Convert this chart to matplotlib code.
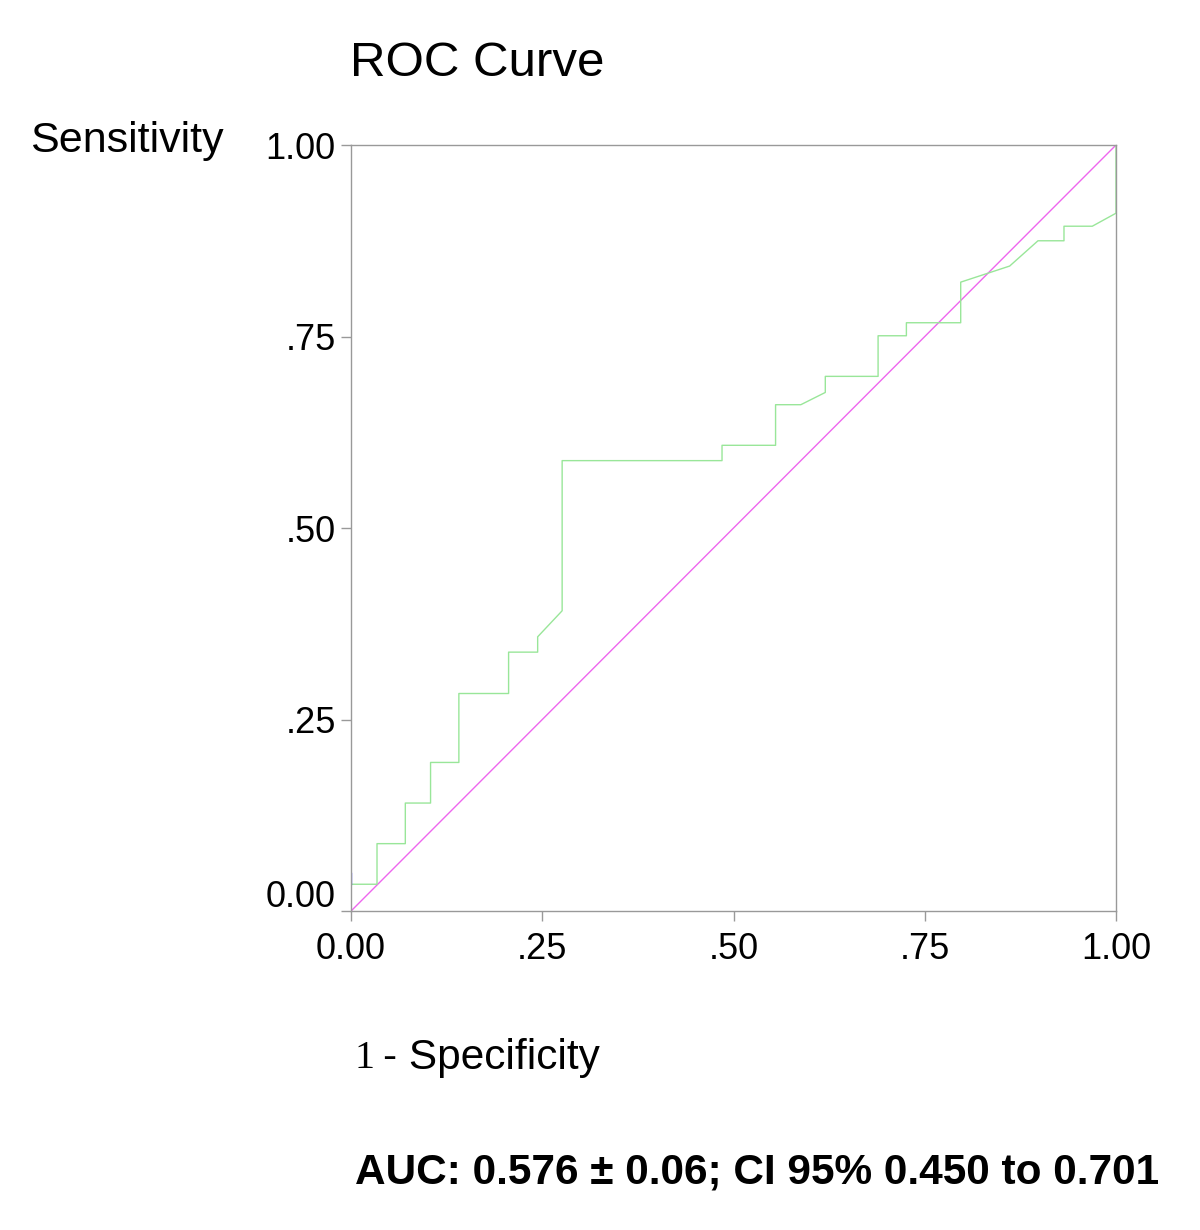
import matplotlib.pyplot as plt
from matplotlib.transforms import ScaledTranslation

plt.rcParams['font.family'] = ['Liberation Sans', 'DejaVu Sans']

# ROC curve vertices (1 - specificity, sensitivity)
fpr = [0.0, 0.0, 0.034, 0.034, 0.071, 0.071, 0.104, 0.104, 0.141, 0.141,
       0.206, 0.206, 0.244, 0.244, 0.276, 0.276, 0.485, 0.485, 0.555, 0.555,
       0.588, 0.620, 0.620, 0.689, 0.689, 0.726, 0.726, 0.797, 0.797, 0.861,
       0.898, 0.932, 0.932, 0.969, 1.0, 1.0]
tpr = [0.0, 0.035, 0.035, 0.088, 0.088, 0.141, 0.141, 0.194, 0.194, 0.284,
       0.284, 0.338, 0.338, 0.358, 0.392, 0.588, 0.588, 0.608, 0.608, 0.661,
       0.661, 0.677, 0.698, 0.698, 0.751, 0.751, 0.768, 0.768, 0.821, 0.842,
       0.875, 0.875, 0.894, 0.894, 0.911, 1.0]
ref_line = [0.0, 1.0]

ticks = [0.0, 0.25, 0.5, 0.75, 1.0]
tick_labels = ['0.00', '.25', '.50', '.75', '1.00']

fig = plt.figure(figsize=(12, 12.3), dpi=100)
ax = fig.add_axes([0.2925, 0.2593, 0.6375, 0.6228])

ax.plot(ref_line, ref_line, color='#ee66ee', lw=1.0)
ax.plot(fpr, tpr, color='#99e699', lw=1.0)
ax.plot([0, 0], [0.035, 0.05], color='#5555ff', lw=1.0)

ax.set_xlim(0, 1)
ax.set_ylim(0, 1)
for s in ax.spines.values():
    s.set_color('#999999')
    s.set_linewidth(1.0)

ax.set_xticks(ticks)
ax.set_xticklabels(tick_labels)
ax.set_yticks(ticks)
ax.set_yticklabels(tick_labels)
ax.tick_params(direction='out', length=7, width=1, color='#999999',
               labelsize=26, pad=4)
ax.tick_params(axis='x', pad=8)
# SPSS puts the "0.00" y label a little above the axis bottom
lab0 = ax.get_yticklabels()[0]
lab0.set_transform(lab0.get_transform() + ScaledTranslation(0, 0.18, fig.dpi_scale_trans))

fig.text(350 / 1200, 1 - 63 / 1230, 'ROC Curve', fontsize=35.5, va='center', ha='left')
fig.text(30 / 1200, 1 - 141 / 1230, 'Sensitivity', fontsize=31, va='center', ha='left')

fig.text(355 / 1200, 1 - 1058 / 1230, '1', fontsize=29, va='center', ha='left',
         family='Liberation Serif')
fig.text(383 / 1200, 1 - 1058 / 1230, '- Specificity', fontsize=30.5, va='center', ha='left')

fig.text(355 / 1200, 1 - 1172 / 1230, 'AUC: 0.576 \u00b1 0.06; CI 95% 0.450 to 0.701',
         fontsize=30.5, fontweight='bold', va='center', ha='left')

fig.savefig('out.png', dpi=100)
plt.close(fig)
